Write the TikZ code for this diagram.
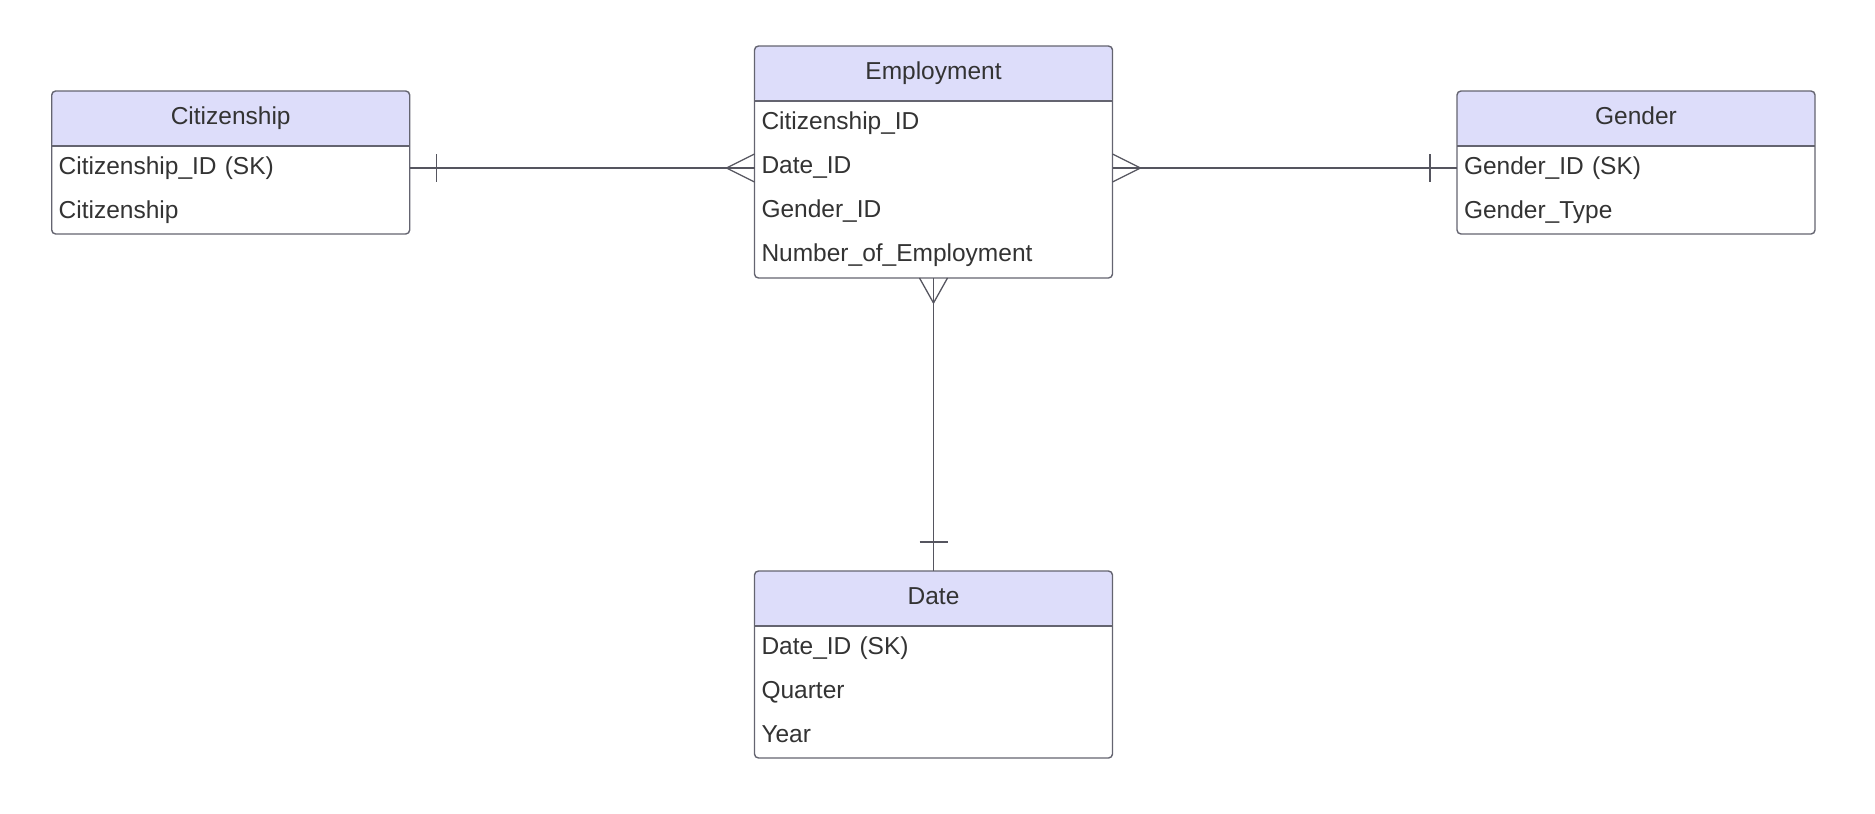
\documentclass[tikz,border=0pt]{standalone}
\usepackage{fontspec}
\setmainfont{Liberation Sans}
\usetikzlibrary{positioning}

\definecolor{headfill}{RGB}{221,221,250}
\definecolor{framegray}{RGB}{100,100,112}
\definecolor{textgray}{RGB}{51,51,51}
\definecolor{linegray}{RGB}{85,85,95}

\tikzset{
    entity/.style={draw=framegray, line width=1.4pt, rounded corners=4pt, fill=white,
        inner sep=0pt, outer sep=0pt, minimum width=358pt, anchor=north west,
        path picture={
            \fill[headfill] (path picture bounding box.north west) rectangle ([yshift=-55pt]path picture bounding box.north east);
            \draw[framegray, line width=1.4pt] ([yshift=-55pt]path picture bounding box.north west) -- ([yshift=-55pt]path picture bounding box.north east);
        }},
    head/.style={minimum width=358pt, minimum height=55pt, inner sep=0pt, outer sep=0pt,
        text height=18.5pt, text depth=6.5pt, text=textgray, font=\fontsize{24.5}{29}\selectfont},
    field/.style={head, minimum height=44pt, inner xsep=7pt, text width=344pt, align=left},
    rel/.style={draw=linegray, line width=1.3pt}
}

\begin{document}
\begin{tikzpicture}[x=1pt, y=-1pt]
            \useasboundingbox (0,0) rectangle (1875,814);

            % Employment
            \node[entity, minimum height=232pt] (emp) at (754.5,46) {};
            \node[head, anchor=north] (emp-head) at (emp.north) {Employment};
            \node[field, below=0pt of emp-head] (emp-cit) {Citizenship\_ID};
            \node[field, below=0pt of emp-cit] (emp-date) {Date\_ID};
            \node[field, below=0pt of emp-date] (emp-gen) {Gender\_ID};
            \node[field, below=0pt of emp-gen] (emp-num) {Number\_of\_Employment};

            % Citizenship
            \node[entity, minimum height=143pt] (cit) at (51.7,91) {};
            \node[head, anchor=north] (cit-head) at (cit.north) {Citizenship};
            \node[field, below=0pt of cit-head] (cit-id) {Citizenship\_ID (SK)};
            \node[field, below=0pt of cit-id] (cit-name) {Citizenship};

            % Gender
            \node[entity, minimum height=143pt] (gen) at (1457,91) {};
            \node[head, anchor=north] (gen-head) at (gen.north) {Gender};
            \node[field, below=0pt of gen-head] (gen-id) {Gender\_ID (SK)};
            \node[field, below=0pt of gen-id] (gen-type) {Gender\_Type};

            % Date
            \node[entity, minimum height=187pt] (date) at (754.5,571) {};
            \node[head, anchor=north] (date-head) at (date.north) {Date};
            \node[field, below=0pt of date-head] (date-id) {Date\_ID (SK)};
            \node[field, below=0pt of date-id] (date-qtr) {Quarter};
            \node[field, below=0pt of date-qtr] (date-year) {Year};

            % relations
            \coordinate (cit-end) at (cit-id.east -| emp.west);
            \coordinate (gen-end) at (gen-id.west -| emp.east);
            \draw[rel] (cit-id.east) -- (cit-end);
            \draw[rel] (cit-id.east) ++(27,-14) -- ++(0,28);
            \draw[rel] (cit-end) ++(0,-14) -- ++(-28,14) -- ++(28,14);

            \draw[rel] (gen-id.west) -- (gen-end);
            \draw[rel] (gen-id.west) ++(-27,-14) -- ++(0,28);
            \draw[rel] (gen-end) ++(0,-14) -- ++(28,14) -- ++(-28,14);

            \draw[rel] (emp.south) -- (date.north);
            \draw[rel] (emp.south) ++(-14,0) -- ++(14,25) -- ++(14,-25);
            \draw[rel] (date.north) ++(-14,-29) -- ++(28,0);
        \end{tikzpicture}
\end{document}
